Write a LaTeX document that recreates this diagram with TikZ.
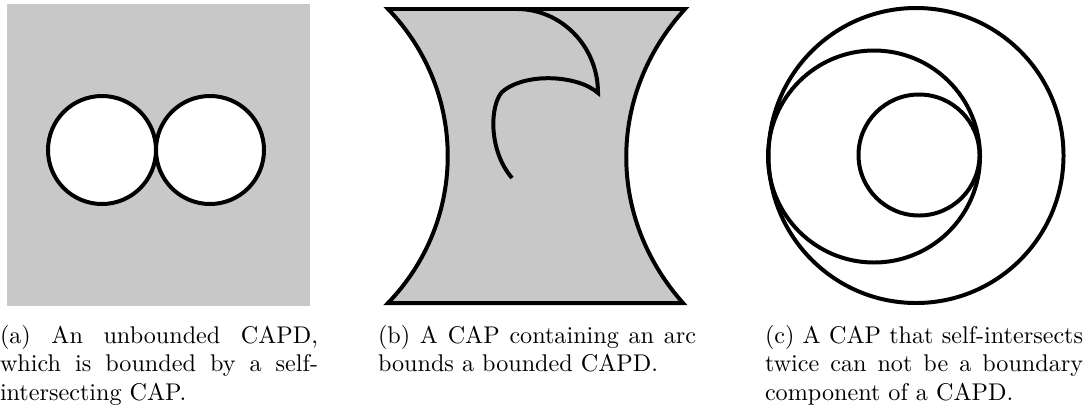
\documentclass[tikz,border=0pt]{standalone}
\definecolor{capdgray}{gray}{0.785}
\tikzset{
    capline/.style={line width=1.65pt, black},
    capcaption/.style={anchor=base west, inner sep=0pt, outer sep=0pt}
}
\newcommand{\capbox}[1]{\parbox[t]{131.7pt}{#1}}
\begin{document}
\begin{tikzpicture}[x=0.414pt, y=0.414pt]
        \useasboundingbox (0, 0) rectangle (1085, 410);
        % (a)
        \fill[capdgray] (7, 104) rectangle (310, 406);
        \foreach \x in {102, 210}{
            \filldraw[capline, fill=white] (\x, 260) circle (54);
        }
        \node[capcaption] (capa) at (0, 67) {\capbox{(a) An unbounded CAPD, which is bounded by a self-\linebreak intersecting CAP.}};
        % (b)
        \filldraw[capline, fill=capdgray] (388, 401) -- (685, 401) to[bend right=42] (683, 107)
            -- (388, 107) to[bend right=44] cycle;
        \draw[capline] (517, 401) .. controls (560, 401) and (598, 365) .. (598, 317)
            .. controls (578, 335) and (525, 338) .. (502, 318)
            .. controls (490, 305) and (488, 260) .. (512, 232);
        \node[capcaption] (capb) at (378, 67) {\capbox{(b) A CAP containing an arc\linebreak bounds a bounded CAPD.}};
        % (c)
        \draw[capline] (916, 254.5) circle (147.5);
        \draw[capline] (874, 253.5) circle (106);
        \draw[capline] (919, 255) circle (60.5);
        \node[capcaption] (capc) at (765, 67) {\capbox{(c) A CAP that self-intersects\linebreak twice can not be a boundary\linebreak component of a CAPD.}};
    \end{tikzpicture}
\end{document}
